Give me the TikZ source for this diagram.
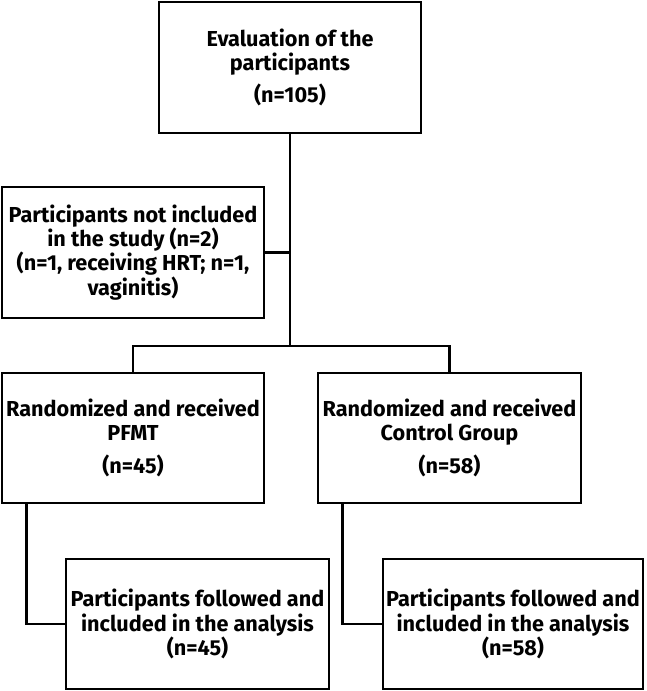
\documentclass[tikz,border=0pt]{standalone}
\usepackage{fontspec}
\setmainfont{Fira Sans}

\begin{document}
\begin{tikzpicture}[x=0.025cm, y=-0.025cm, line width=1.8pt,
    font=\bfseries\fontsize{15.4}{17.2}\selectfont,
    box/.style={draw, align=center, inner sep=0pt, minimum height=3.25cm}]
  \useasboundingbox (0,0) rectangle (646,691);

  % boxes
  \node[box, minimum width=6.55cm, minimum height=3.275cm] (eval) at (290,67.5)
        {Evaluation of the\\ participants\\[6pt] (n=105)};
  \node[box, minimum width=6.55cm, minimum height=3.275cm] (excl) at (133,252.5)
        {Participants not included\\ in the study (n=2)\\ (n=1, receiving HRT; n=1,\\ vaginitis)};
  \node[box, minimum width=6.55cm] (pfmt) at (133,438)
        {Randomized and received\\ PFMT\\[6pt] (n=45)};
  \node[box, minimum width=6.575cm] (ctrl) at (449.5,438)
        {Randomized and received\\ Control Group\\[6pt] (n=58)};
  \node[box, minimum width=6.575cm] (fup1) at (197.5,624)
        {Participants followed and\\ included in the analysis\\ (n=45)};
  \node[box, minimum width=6.5cm] (fup2) at (513,624)
        {Participants followed and\\ included in the analysis\\ (n=58)};

  % connectors
  \coordinate (split) at (290,346);
  \draw (eval.south) -- (split);
  \draw (excl.east) -- (excl.east -| eval.south);
  \draw (pfmt.north) |- (split) -| (ctrl.north);
  \draw ([xshift=0.65cm]pfmt.south west) |- (fup1.west);
  \draw ([xshift=0.65cm]ctrl.south west) |- (fup2.west);
\end{tikzpicture}
\end{document}
